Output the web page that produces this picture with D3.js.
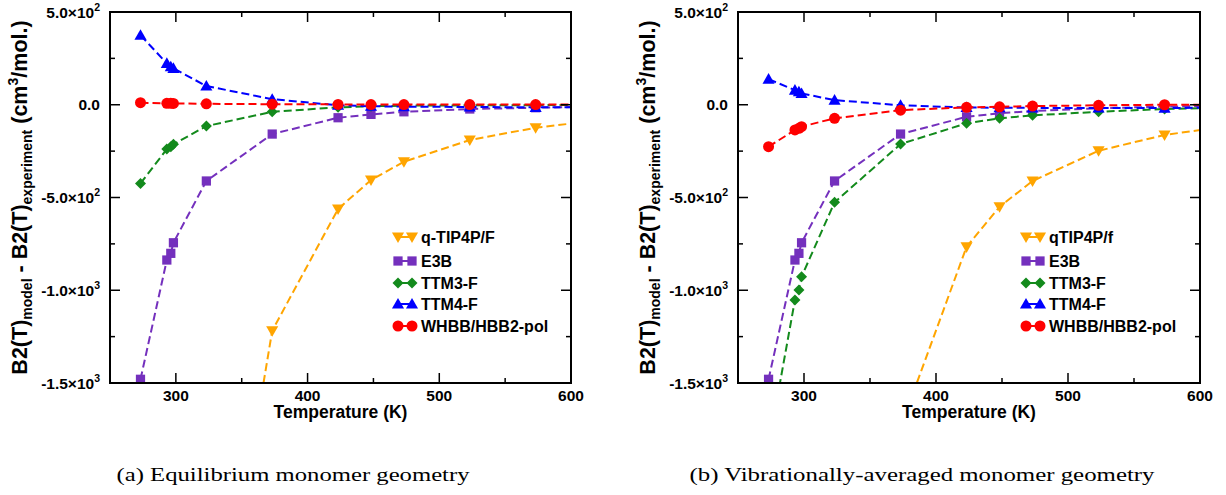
<!DOCTYPE html>
<html>
<head>
<meta charset="utf-8">
<script src="https://cdnjs.cloudflare.com/ajax/libs/d3/7.8.5/d3.min.js"></script>
<style>
  html, body { margin: 0; padding: 0; background: #fff; }
  svg { display: block; }
</style>
</head>
<body>
<svg id="chart" width="1226" height="495"></svg>
<script>
// ---------------- DATA ----------------
const temperature = [273.15, 293.15, 296.15, 298.15, 323.15, 373.15, 423.15, 448.15, 473.15, 523.15, 573.15, 623.15];

// (a) equilibrium monomer geometry
const qtip4pF_a = [null, null, null, null, -3350, -1218, -562, -406, -307, -190, -124, -82];
const e3b_a     = [-1480, -837, -801, -744, -411, -158, -70, -52, -38, -23, -16, -10];
const ttm3F_a   = [-424, -239, -226, -213, -115, -38, -14, -8, -5, -3, -2, -1];
const ttm4F_a   = [375, 223, 205, 196, 101, 30, -3, -8, -10, -12, -14, -12];
const whbb_a    = [11, 8, 8, 7, 5, 3, 2, 1, 1, 1, 1, 1];

// (b) vibrationally-averaged monomer geometry
const qtip4pF_b = [null, null, null, null, null, -1740, -766, -550, -411, -248, -163, -113];
const e3b_b     = [-1480, -837, -801, -744, -411, -158, -65, -46, -34, -19, -10, -5];
const ttm3F_b   = [-1840, -1052, -998, -927, -526, -212, -100, -73, -57, -38, -23, -15];
const ttm4F_b   = [138, 79, 70, 61, 25, -3, -15, -16, -17, -17, -18, -15];
const whbb_b    = [-226, -136, -127, -118, -73, -29, -14, -11, -7, -3, 0, 1];

const seriesNames_a = ["q-TIP4P/F", "E3B", "TTM3-F", "TTM4-F", "WHBB/HBB2-pol"];
const seriesNames_b = ["qTIP4P/f", "E3B", "TTM3-F", "TTM4-F", "WHBB/HBB2-pol"];

const xTicks = [300, 400, 500, 600];
const xMinorTicks = [350, 450, 550];
const yTicks = [500, 0, -500, -1000, -1500];
const yTickLabels = [["5.0\u00d710", "2"], ["0.0", ""], ["-5.0\u00d710", "2"], ["-1.0\u00d710", "3"], ["-1.5\u00d710", "3"]];
const yMinorTicks = [250, -250, -750, -1250];
const xDomain = [250, 600];
const yDomain = [-1500, 500];

const captions = ["(a) Equilibrium monomer geometry", "(b) Vibrationally-averaged monomer geometry"];

// ---------------- STYLE ----------------
const colors  = ["#ffa500", "#7430bd", "#138a1c", "#0000ff", "#ff0000"];
const shapes  = ["triDown", "square", "diamond", "triUp", "circle"];

function markerPath(shape, s) {
  const p = d3.path();
  if (shape === "circle") { p.arc(0, 0, s * 0.5, 0, 2 * Math.PI); }
  else if (shape === "square") { const h = s * 0.42; p.rect(-h, -h, 2 * h, 2 * h); }
  else if (shape === "diamond") { const h = s * 0.5; p.moveTo(0, -h); p.lineTo(h, 0); p.lineTo(0, h); p.lineTo(-h, 0); p.closePath(); }
  else if (shape === "triUp") { const h = s * 0.55; p.moveTo(0, -h); p.lineTo(h, h * 0.75); p.lineTo(-h, h * 0.75); p.closePath(); }
  else if (shape === "triDown") { const h = s * 0.55; p.moveTo(0, h); p.lineTo(h, -h * 0.75); p.lineTo(-h, -h * 0.75); p.closePath(); }
  return p.toString();
}

const svg = d3.select("#chart");
const legendRows = [237, 261, 283, 304, 326];

const panels = [
  { left: 110, right: 571, top: 12, bottom: 383, labelX: 27, capX: 293, capW: 353,
    data: [qtip4pF_a, e3b_a, ttm3F_a, ttm4F_a, whbb_a], names: seriesNames_a, caption: captions[0] },
  { left: 738, right: 1200, top: 12, bottom: 383, labelX: 655, capX: 922, capW: 465,
    data: [qtip4pF_b, e3b_b, ttm3F_b, ttm4F_b, whbb_b], names: seriesNames_b, caption: captions[1] }
];

panels.forEach((P, pi) => {
  const x = d3.scaleLinear().domain(xDomain).range([P.left, P.right]);
  const y = d3.scaleLinear().domain(yDomain).range([P.bottom, P.top]);
  const g = svg.append("g");

  const clipId = "clip" + pi;
  svg.append("clipPath").attr("id", clipId).append("rect")
    .attr("x", P.left).attr("y", P.top).attr("width", P.right - P.left).attr("height", P.bottom - P.top);

  // series
  const plot = g.append("g").attr("clip-path", `url(#${clipId})`);
  P.data.forEach((vals, si) => {
    const pts = temperature.map((t, i) => ({ t, v: vals[i] })).filter(d => d.v !== null);
    const line = d3.line().x(d => x(d.t)).y(d => y(d.v));
    plot.append("path").attr("d", line(pts))
      .attr("fill", "none").attr("stroke", colors[si]).attr("stroke-width", 2)
      .attr("stroke-dasharray", "8,4");
    plot.selectAll(null).data(pts).enter().append("path")
      .attr("d", markerPath(shapes[si], 11))
      .attr("transform", d => `translate(${x(d.t)},${y(d.v)})`)
      .attr("fill", colors[si]);
  });

  // frame
  g.append("rect").attr("x", P.left).attr("y", P.top)
    .attr("width", P.right - P.left).attr("height", P.bottom - P.top)
    .attr("fill", "none").attr("stroke", "#000").attr("stroke-width", 2);

  // ticks (inward, all four sides)
  const tickG = g.append("g").attr("stroke", "#000").attr("stroke-width", 1.5);
  xTicks.filter(v => v < xDomain[1]).forEach(v => {
    tickG.append("line").attr("x1", x(v)).attr("x2", x(v)).attr("y1", P.bottom).attr("y2", P.bottom - 10);
    tickG.append("line").attr("x1", x(v)).attr("x2", x(v)).attr("y1", P.top).attr("y2", P.top + 10);
  });
  xMinorTicks.forEach(v => {
    tickG.append("line").attr("x1", x(v)).attr("x2", x(v)).attr("y1", P.bottom).attr("y2", P.bottom - 5);
    tickG.append("line").attr("x1", x(v)).attr("x2", x(v)).attr("y1", P.top).attr("y2", P.top + 5);
  });
  yTicks.filter(v => v > yDomain[0] && v < yDomain[1]).forEach(v => {
    tickG.append("line").attr("x1", P.left).attr("x2", P.left + 10).attr("y1", y(v)).attr("y2", y(v));
    tickG.append("line").attr("x1", P.right).attr("x2", P.right - 10).attr("y1", y(v)).attr("y2", y(v));
  });
  yMinorTicks.forEach(v => {
    tickG.append("line").attr("x1", P.left).attr("x2", P.left + 5).attr("y1", y(v)).attr("y2", y(v));
    tickG.append("line").attr("x1", P.right).attr("x2", P.right - 5).attr("y1", y(v)).attr("y2", y(v));
  });

  // tick labels
  const af = "'Liberation Sans', Arial, sans-serif";
  xTicks.forEach(v => {
    g.append("text").attr("x", x(v)).attr("y", P.bottom + 18)
      .attr("text-anchor", "middle").attr("font-family", af).attr("font-weight", "bold")
      .attr("font-size", 15.5).text(v);
  });
  yTicks.forEach((v, i) => {
    const t = g.append("text").attr("x", P.left - 10).attr("y", y(v) + 5.5)
      .attr("text-anchor", "end").attr("font-family", af).attr("font-weight", "bold")
      .attr("font-size", 15.5);
    t.append("tspan").text(yTickLabels[i][0]);
    if (yTickLabels[i][1]) t.append("tspan").attr("dy", -7).attr("font-size", 10.5).text(yTickLabels[i][1]);
  });

  // axis titles
  g.append("text").attr("x", (P.left + P.right) / 2).attr("y", P.bottom + 35)
    .attr("text-anchor", "middle").attr("font-family", af).attr("font-weight", "bold")
    .attr("font-size", 17.5).text("Temperature (K)");

  const yl = g.append("text")
    .attr("transform", `translate(${P.labelX},${(P.top + P.bottom) / 2}) rotate(-90)`)
    .attr("text-anchor", "middle").attr("font-family", af).attr("font-weight", "bold")
    .attr("font-size", 21.5);
  yl.append("tspan").text("B2(T)");
  yl.append("tspan").attr("font-size", 14).attr("dy", 5).text("model");
  yl.append("tspan").attr("dy", -5).text(" - B2(T)");
  yl.append("tspan").attr("font-size", 14).attr("dy", 5).text("experiment");
  yl.append("tspan").attr("dy", -5).text(" (cm");
  yl.append("tspan").attr("font-size", 14).attr("dy", -9).text("3");
  yl.append("tspan").attr("dy", 9).text("/mol.)");

  // legend
  const lg = g.append("g");
  P.names.forEach((name, si) => {
    const ly = legendRows[si];
    const x1 = P.left + 288, x2 = P.left + 302;
    lg.append("line").attr("x1", x1).attr("x2", x2).attr("y1", ly).attr("y2", ly)
      .attr("stroke", colors[si]).attr("stroke-width", 2);
    [x1, x2].forEach(mx => lg.append("path").attr("d", markerPath(shapes[si], 11))
      .attr("transform", `translate(${mx},${ly})`).attr("fill", colors[si]));
    lg.append("text").attr("x", P.left + 311).attr("y", ly + 5.5)
      .attr("font-family", af).attr("font-weight", "bold").attr("font-size", 16)
      .text(name);
  });

  // caption
  svg.append("text").attr("x", P.capX - P.capW / 2).attr("y", 481)
    .attr("font-family", "'Liberation Serif', 'Times New Roman', serif")
    .attr("font-size", 19).attr("textLength", P.capW).attr("lengthAdjust", "spacingAndGlyphs")
    .text(P.caption);
});
</script>
</body>
</html>
